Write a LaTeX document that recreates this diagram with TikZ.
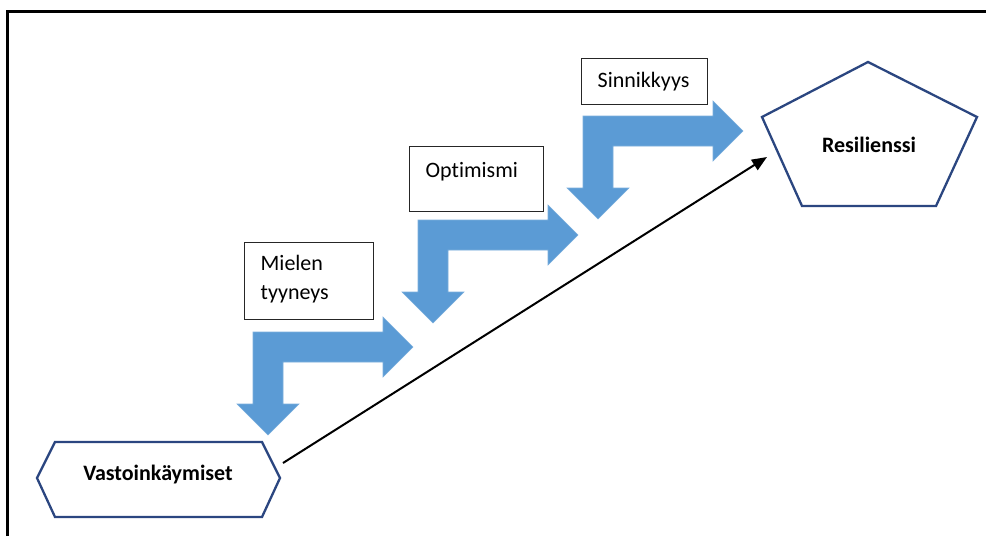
\documentclass[tikz,border=0pt]{standalone}
\usepackage{fontspec}
\setmainfont{Carlito}[Ligatures=NoCommon]
\usetikzlibrary{arrows.meta}
\definecolor{arrowblue}{HTML}{5B9BD5}
\definecolor{shapeblue}{HTML}{2B4680}
\tikzset{
  labelbox/.style={draw=black!85, line width=1.3pt, anchor=north west, align=left,
    inner xsep=16pt, inner ysep=0pt},
  shapeline/.style={draw=shapeblue, line width=2.3pt, line join=miter},
  bluearrow/.style={fill=arrowblue, draw=arrowblue!80!white, line width=.6pt},
  linkarrow/.style={line width=2pt, -{Triangle[length=15pt,width=12pt]}},
  boldtext/.style={font=\fontsize{22}{29}\selectfont\bfseries, anchor=base}
}
\begin{document}
\begin{tikzpicture}[x=1pt, y=-1pt, every node/.style={font=\fontsize{22}{29}\selectfont}]
\useasboundingbox (0,0) rectangle (986,536);
\fill[white] (0,0) rectangle (986,536);
% frame
\draw[line width=3pt] (7,536) -- (7,11) -- (986,11);

% bent arrows
\foreach \cx/\cy in {253/332, 418/220, 583/116}
  \filldraw[bluearrow, shift={(\cx,\cy)}] (0,0) -- (130,0) -- (130,-15) -- (160,15)
    -- (130,45) -- (130,30) -- (30,30) -- (30,72) -- (46,72) -- (15,103)
    -- (-16,72) -- (0,72) -- cycle;

% boxes
\node[labelbox, text width=94pt, text height=29pt, text depth=17pt] (sinn) at (581,58) {Sinnikkyys};
\node[labelbox, text width=102pt, text height=31pt, text depth=34pt] (opt) at (409,146) {Optimismi};
\node[labelbox, text width=97pt, text height=28pt, text depth=49pt] (mielen) at (244,242) {Mielen\\tyyneys};

% start and goal
\draw[shapeline] (37,478) -- (55,442) -- (262,442) -- (280,478) -- (262,517) -- (55,517) -- cycle;
\node[boldtext] (vast) at (158,480) {Vastoinkäymiset};
\draw[shapeline] (868,62) -- (977,117) -- (936,206) -- (802,206) -- (762,117) -- cycle;
\node[boldtext] (resil) at (869,152) {Resilienssi};

\coordinate (from) at (283,463);
\coordinate (to) at (767,157);
\draw[linkarrow] (from) -- (to);
\end{tikzpicture}
\end{document}
